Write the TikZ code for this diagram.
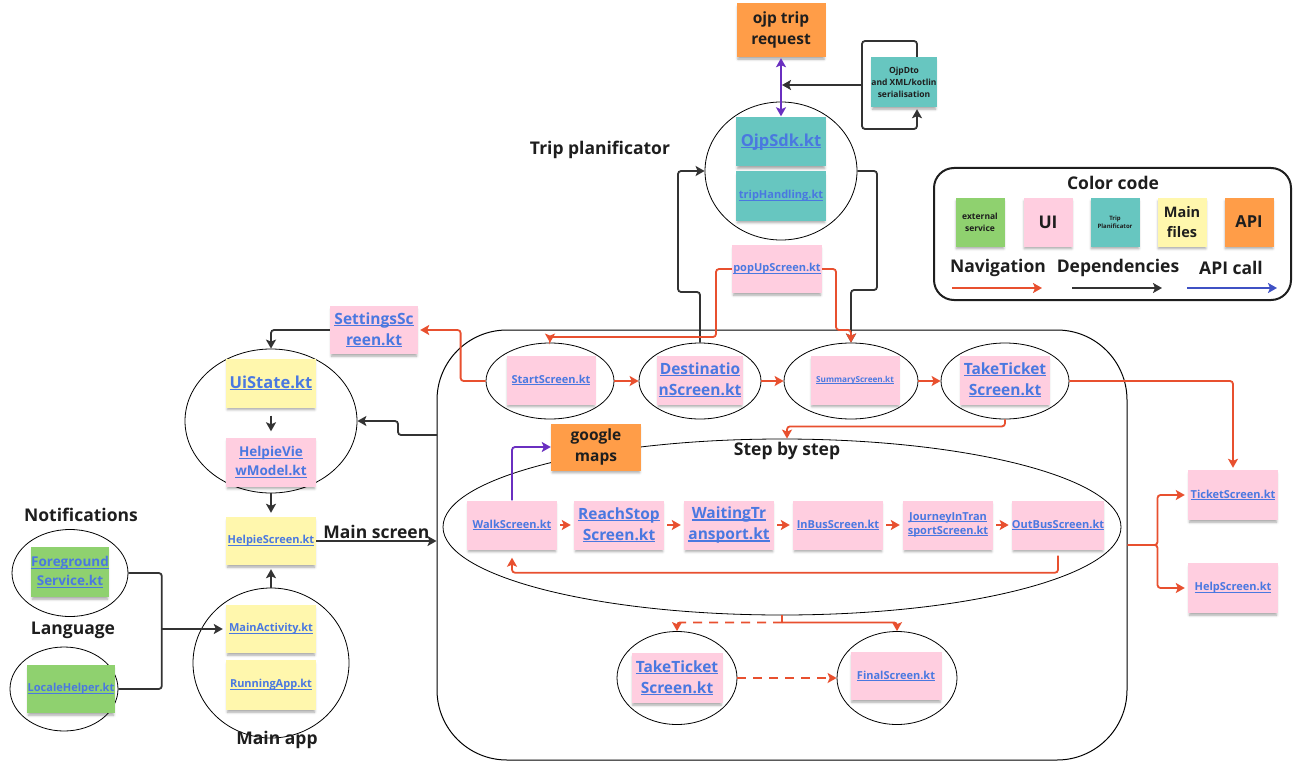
\documentclass[tikz,border=0pt]{standalone}
\usepackage{fontspec}
\setmainfont{Open Sans}
\usepackage{xcolor}
\usepackage{tikz}
\usetikzlibrary{shapes.geometric}
\usetikzlibrary{calc}
\usetikzlibrary{arrows.meta,shadows.blur}
\definecolor{uipink}{HTML}{FFCEE0}
\definecolor{tripteal}{HTML}{67C6C0}
\definecolor{mainyellow}{HTML}{FFF7AD}
\definecolor{extgreen}{HTML}{8FD16F}
\definecolor{apiorange}{HTML}{FF9D48}
\definecolor{linkblue}{HTML}{4A78E0}
\definecolor{navred}{HTML}{E8502F}
\definecolor{depgray}{HTML}{333333}
\definecolor{apipurple}{HTML}{6A2FC0}
\definecolor{keyblue}{HTML}{3F51C4}
\definecolor{ink}{HTML}{1E1E1E}
\newcommand{\kt}[1]{\setbox0\hbox{#1}\rlap{\rule[-0.13em]{\wd0}{0.07em}}\box0}
\tikzset{
	>={Stealth[length=9pt,width=10pt,inset=2pt]},
	note/.style={rectangle, inner sep=0pt, align=center, text=linkblue,
			minimum width=90pt, minimum height=49pt,
			blur shadow={shadow xshift=0pt, shadow yshift=-3pt, shadow blur radius=2.5pt, shadow opacity=35, shadow scale=0.97}},
	uinote/.style={note, fill=uipink},
	tripnote/.style={note, fill=tripteal},
	mainnote/.style={note, fill=mainyellow},
	extnote/.style={note, fill=extgreen},
	apinote/.style={note, fill=apiorange, text=ink},
	swatch/.style={minimum width=49pt, minimum height=49pt, text=ink},
	group/.style={draw, ellipse, line width=0.8pt, inner sep=0pt},
	block/.style={draw, rectangle, rounded corners=70pt, line width=1pt},
	txthead/.style={font=\bfseries\fontsize{17.5}{21}\selectfont, text=ink},
	txthuge/.style={font=\bfseries\fontsize{16.5}{21}\selectfont},
	txtbig/.style={font=\bfseries\fontsize{15.5}{21}\selectfont},
	txtmid/.style={font=\bfseries\fontsize{13.5}{19}\selectfont},
	txtsmall/.style={font=\bfseries\fontsize{11}{14}\selectfont},
	txttiny/.style={font=\bfseries\fontsize{8.2}{11}\selectfont},
	nav/.style={draw=navred, line width=1.8pt, rounded corners=3pt},
	dep/.style={draw=depgray, line width=1.8pt, rounded corners=3pt},
	apicall/.style={draw=apipurple, line width=1.8pt, rounded corners=3pt}
}

\begin{document}
\begin{tikzpicture}[x=1pt,y=-1pt]
	\useasboundingbox (0,0) rectangle (1297,770);

	\node[block, minimum width=690pt, minimum height=430pt] (journey) at (782,545) {};
	\node[group, minimum width=678pt, minimum height=176pt] (stepgrp) at (782,527) {};
	\node[group, minimum width=152pt, minimum height=138pt] (ojpgrp) at (781,171) {};
	\node[group, minimum width=128pt, minimum height=76pt] (startgrp) at (550,381) {};
	\node[group, minimum width=122pt, minimum height=76pt] (destgrp) at (700,381) {};
	\node[group, minimum width=134pt, minimum height=76pt] (summgrp) at (851,381) {};
	\node[group, minimum width=128pt, minimum height=76pt] (takegrp) at (1005,381) {};
	\node[group, minimum width=172pt, minimum height=144pt] (uigrp) at (271,421) {};
	\node[group, minimum width=156pt, minimum height=150pt] (appgrp) at (271,663) {};
	\node[group, minimum width=116pt, minimum height=87pt] (fggrp) at (70,573) {};
	\node[group, minimum width=108pt, minimum height=84pt] (locgrp) at (64,689) {};
	\node[group, minimum width=120pt, minimum height=93pt] (take2grp) at (677,678) {};
	\node[group, minimum width=120pt, minimum height=93pt] (finalgrp) at (897,678) {};

	\node[apinote, txtbig, minimum width=89pt, minimum height=54pt] (ojpreq) at (781,30) {ojp trip\\request};
	\node[tripnote, text=ink, font=\bfseries\fontsize{8.5}{12}\selectfont, minimum width=64pt, minimum height=50pt] (ojpdto) at (904,82) {OjpDto\\and XML/kotlin\\serialisation};
	\node[tripnote, txthuge] (ojpsdk) at (781,142) {\kt{OjpSdk.kt}};
	\node[tripnote, txtsmall] (triphandling) at (781,196) {\kt{tripHandling.kt}};
	\node[uinote, txtsmall, minimum height=48pt] (popup) at (777,269) {\kt{popUpScreen.kt}};
	\node[uinote, txtbig, minimum width=88pt, minimum height=48pt] (settings) at (374,330) {\kt{SettingsSc}\\\kt{reen.kt}};
	\node[mainnote, txthuge] (uistate) at (271,383) {\kt{UiState.kt}};
	\node[uinote, txtmid] (viewmodel) at (271,462) {\kt{HelpieVie}\\\kt{wModel.kt}};
	\node[mainnote, txtsmall, minimum height=48pt] (helpie) at (271,541) {\kt{HelpieScreen.kt}};
	\node[mainnote, txtsmall, minimum height=48pt] (mainact) at (271,629) {\kt{MainActivity.kt}};
	\node[mainnote, txtsmall, minimum height=50pt] (running) at (271,685) {\kt{RunningApp.kt}};
	\node[extnote, txtmid, minimum width=75pt, minimum height=50pt] (fgservice) at (70,572) {\kt{Foreground}\\\kt{Service.kt}};
	\node[extnote, txtsmall, minimum width=88pt, minimum height=48pt] (locale) at (71,689) {\kt{LocaleHelper.kt}};

	\node[uinote, txtsmall, minimum width=89pt] (startscr) at (551,380) {\kt{StartScreen.kt}};
	\node[uinote, txtbig, minimum width=86pt] (destscr) at (700,380) {\kt{Destinatio}\\\kt{nScreen.kt}};
	\node[uinote, txttiny, minimum width=89pt] (summscr) at (855,380) {\kt{SummaryScreen.kt}};
	\node[uinote, txtbig] (takescr) at (1005,380) {\kt{TakeTicket}\\\kt{Screen.kt}};

	\node[apinote, txtbig, minimum height=47pt] (google) at (596,447) {google\\maps};
	\node[uinote, txtsmall] (walk) at (512,525) {\kt{WalkScreen.kt}};
	\node[uinote, txtbig] (reach) at (619,525) {\kt{ReachStop}\\\kt{Screen.kt}};
	\node[uinote, txtbig] (waiting) at (729,525) {\kt{WaitingTr}\\\kt{ansport.kt}};
	\node[uinote, txtsmall] (inbus) at (838,525) {\kt{InBusScreen.kt}};
	\node[uinote, txtsmall] (journeyin) at (948,525) {\kt{JourneyInTran}\\\kt{sportScreen.kt}};
	\node[uinote, txtsmall] (outbus) at (1058,525) {\kt{OutBusScreen.kt}};
	\node[uinote, txtsmall, minimum height=50pt] (ticket) at (1233,495) {\kt{TicketScreen.kt}};
	\node[uinote, txtsmall, minimum height=50pt] (help) at (1233,588) {\kt{HelpScreen.kt}};
	\node[uinote, txtbig, minimum width=91pt, minimum height=50pt] (take2) at (677,678) {\kt{TakeTicket}\\\kt{Screen.kt}};
	\node[uinote, txtsmall, minimum width=91pt, minimum height=48pt] (final) at (896,676) {\kt{FinalScreen.kt}};

	\node[txthead] (tripttl) at (600,150) {Trip planificator};
	\node[txthead] (notifttl) at (81,515) {Notifications};
	\node[txthead] (langttl) at (73,630) {Language};
	\node[txthead] (appttl) at (277,740) {Main app};
	\node[txthead] (stepttl) at (787,451) {Step by step};

	\node[draw=ink, line width=2pt, rounded corners=20pt, minimum width=357pt, minimum height=132pt] (legend) at (1112.5,234) {};
	\node[txthead] (colorcode) at (1113,183) {Color code};
	\node[extnote, swatch, font=\bfseries\fontsize{8.5}{12}\selectfont] (extkey) at (980,222) {external\\service};
	\node[uinote, swatch, txthead] (uikey) at (1048,222) {UI};
	\node[tripnote, swatch, font=\bfseries\fontsize{6}{8}\selectfont] (tripkey) at (1115,222) {Trip\\Planificator};
	\node[mainnote, swatch, font=\bfseries\fontsize{14.5}{20}\selectfont] (mainkey) at (1182,222) {Main\\files};
	\node[apinote, swatch, txthuge] (apikey) at (1249,222) {API};
	\node[txthead] (navtxt) at (998,268) {Navigation};
	\node[txthead] (deptxt) at (1118,268) {Dependencies};
	\node[txthead] (apitxt) at (1231,268) {API call};
	\coordinate (navkey) at (952,288);
	\coordinate (depkey) at (1072,288);
	\coordinate (apicallkey) at (1187,288);
	\draw[nav, ->] (navkey) -- ++(90,0);
	\draw[dep, ->] (depkey) -- ++(90,0);
	\draw[draw=keyblue, line width=1.8pt, ->] (apicallkey) -- ++(90,0);

	\coordinate (dtotop) at (862,41);
	\coordinate (dtobot) at (862,129);
	\coordinate (dtojoin) at (862,85);
	\coordinate (destbend) at (678,292);
	\coordinate (sdkbend) at (877,290);
	\coordinate (popbendl) at (716,337);
	\coordinate (popbendr) at (836,330);
	\coordinate (jleft) at (437,435);
	\coordinate (langjoin) at ([xshift=-64pt]mainact.west);
	\coordinate (split) at ([yshift=-7pt]stepgrp.south);

	\draw[apicall, <->, shorten <=1pt, shorten >=1pt] (ojpreq) -- (ojpsdk);
	\draw[dep, ->, shorten >=2pt] ([xshift=13pt]ojpdto.north) |- (dtotop) -- (dtobot) -| ([xshift=13pt]ojpdto.south);
	\draw[dep, ->, shorten >=1pt] (dtojoin) -- (ojpsdk.north |- dtojoin);
	\draw[dep, ->] (destgrp.north) |- (destbend) |- (ojpgrp.west);
	\draw[dep, ->] (ojpgrp.east) -| (sdkbend) -| (summgrp.north);
	\draw[nav, ->] (popup.west) -| (popbendl) -| (startgrp.north);
	\draw[nav, ->] (popup.east) -| (popbendr) -| (summgrp.north);

	\draw[nav, ->] (startgrp) -- (destgrp);
	\draw[nav, ->] (destgrp) -- (summgrp);
	\draw[nav, ->] (summgrp) -- (takegrp);
	\draw[nav, ->, shorten >=2pt] (startgrp.west) -- ++(-25,0) |- (settings.east);
	\draw[dep, ->] (settings.west) -| (uigrp.north);
	\draw[dep, ->, shorten <=8pt, shorten >=6pt] (uistate) -- (viewmodel);
	\draw[dep, ->, shorten <=6pt, shorten >=4pt] (viewmodel) -- (helpie);
	\draw[dep, ->, shorten >=4pt] (appgrp) -- (helpie);
	\draw[dep, ->] (helpie.east) -- (helpie.east -| journey.west) node[midway, above=1pt, txthead, inner sep=0pt] {Main screen};
	\draw[dep, ->] (jleft) -- ++(-39,0) |- (uigrp.east);
	\draw[dep] (fggrp.east) -| (langjoin);
	\draw[dep] (locgrp.east) -| (langjoin);
	\draw[dep, ->, shorten >=3pt] (langjoin) -- (mainact.west);

	\draw[apicall, ->] (walk.north) |- (google.west);
	\draw[nav, ->, shorten <=3pt, shorten >=3pt] (walk) -- (reach);
	\draw[nav, ->, shorten <=3pt, shorten >=3pt] (reach) -- (waiting);
	\draw[nav, ->, shorten <=3pt, shorten >=3pt] (waiting) -- (inbus);
	\draw[nav, ->, shorten <=3pt, shorten >=3pt] (inbus) -- (journeyin);
	\draw[nav, ->, shorten <=3pt, shorten >=3pt] (journeyin) -- (outbus);
	\draw[nav, ->, shorten <=6pt, shorten >=8pt] (outbus.south) -- ++(0,23) -| (walk.south);
	\draw[nav, ->] (takegrp.south) -- ++(0,7) -| ([xshift=5pt]stepgrp.north);
	\draw[nav, ->, shorten >=2pt] (takegrp.east) -| (ticket.north);
	\draw[nav, ->, shorten >=3pt] (journey.east) -- ++(30,0) |- (ticket.west);
	\draw[nav, ->, shorten >=3pt] (journey.east) -- ++(30,0) |- (help.west);
	\draw[nav] (stepgrp.south) -- (split);
	\draw[nav, ->] (split) -| (finalgrp.north);
	\draw[nav, ->, dash pattern=on 9pt off 7pt] (split) -| (take2grp.north);
	\draw[nav, ->, dash pattern=on 9pt off 7pt] (take2grp) -- (finalgrp);
\end{tikzpicture}
\end{document}
